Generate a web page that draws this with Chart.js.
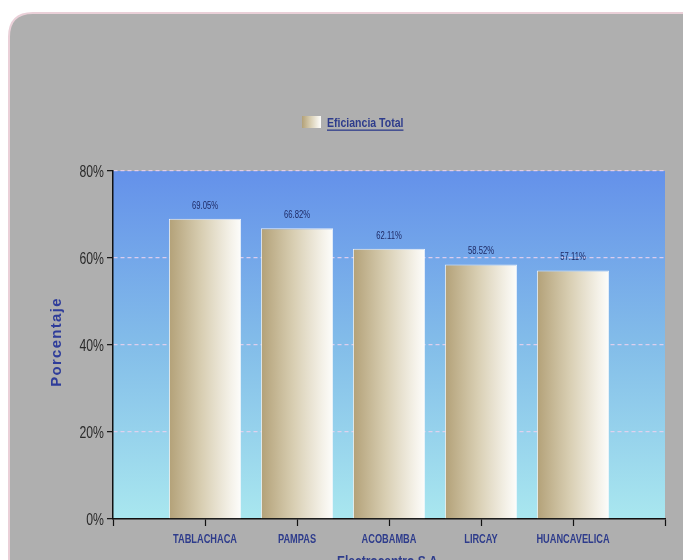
<!DOCTYPE html>
<html><head><meta charset="utf-8">
<script src="https://cdn.jsdelivr.net/npm/chart.js@4/dist/chart.umd.min.js"></script>
<style>
html,body{margin:0;padding:0;background:#fff;overflow:hidden;width:683px;height:560px;}
#wrap{width:683px;height:580px;position:relative;}
</style></head>
<body><div id="wrap"><canvas id="c" width="683" height="580"></canvas></div>
<script>
const categories = ['TABLACHACA','PAMPAS','ACOBAMBA','LIRCAY','HUANCAVELICA'];
const eficienciaTotal = [69.05, 66.82, 62.11, 58.52, 57.11];
const seriesName = 'Eficiancia Total';
const yTicks = [0, 20, 40, 60, 80];
const yTitle = 'Porcentaje';
const xTitle = 'Electrocentro S.A.';

const FONT = "'Liberation Sans',Arial,sans-serif";
const labels = [''].concat(categories, ['']);
const values = [null].concat(eficienciaTotal, [null]);

function barGrad(ctx2d, x0, x1){
  const g = ctx2d.createLinearGradient(x0,0,x1,0);
  g.addColorStop(0,'#b3a178');
  g.addColorStop(0.45,'#d8ceb2');
  g.addColorStop(0.85,'#f4f1e8');
  g.addColorStop(1,'#fdfdfb');
  return g;
}

// draw horizontally condensed text (narrow face look-alike)
function narrowText(c, text, x, y, font, color, align, base, sx){
  c.save();
  c.font = font; c.fillStyle = color;
  c.textAlign = align; c.textBaseline = base;
  c.translate(x, y); c.scale(sx, 1);
  c.fillText(text, 0, 0);
  const w = c.measureText(text).width * sx;
  c.restore();
  return w;
}

const bgPlugin = {
  id:'bg',
  beforeDraw(chart){
    const c = chart.ctx, a = chart.chartArea;
    c.save();
    c.fillStyle='#ffffff'; c.fillRect(0,0,chart.width,chart.height);
    const x=9,y=13,r=24,w=chart.width+40,h=chart.height+40;
    c.beginPath();
    c.moveTo(x+r,y); c.lineTo(x+w,y); c.lineTo(x+w,y+h); c.lineTo(x,y+h); c.lineTo(x,y+r);
    c.quadraticCurveTo(x,y,x+r,y); c.closePath();
    c.fillStyle='#afafaf'; c.fill();
    c.lineWidth=2; c.strokeStyle='#ead0d8'; c.stroke();
    const g = c.createLinearGradient(0,a.top,0,a.bottom);
    g.addColorStop(0,'#6491ea');
    g.addColorStop(0.5,'#83bde9');
    g.addColorStop(1,'#a9e7ef');
    c.fillStyle=g; c.fillRect(a.left,a.top,a.right-a.left,a.bottom-a.top);
    // legend
    c.fillStyle=barGrad(c,302,321); c.fillRect(302,116,19,12);
    const tw = narrowText(c, seriesName, 327, 127, "bold 13px "+FONT, '#2e3c8c', 'left', 'alphabetic', 0.81);
    c.fillStyle='#2e3c8c'; c.fillRect(327,129.5,tw,1.3);
    c.restore();
  }
};

const textPlugin = {
  id:'texts',
  afterDraw(chart){
    const c = chart.ctx, a = chart.chartArea;
    const sx = chart.scales.x, sy = chart.scales.y;
    // y tick labels
    sy.ticks.forEach((t,i)=>{
      narrowText(c, t.value+'%', a.left-9, sy.getPixelForTick(i)+1, "17px "+FONT, '#2a2a2a', 'right', 'middle', 0.72);
    });
    // x tick labels
    sx.ticks.forEach((t,i)=>{
      const lab = labels[t.value]; if (!lab) return;
      narrowText(c, lab, sx.getPixelForTick(i), a.bottom+23.5, "bold 13px "+FONT, '#2e3c8c', 'center', 'alphabetic', 0.71);
    });
    // x title
    narrowText(c, xTitle, (a.left+a.right)/2, 565.5, "bold 15px "+FONT, '#2e3c8c', 'center', 'alphabetic', 0.8);
    // y title
    c.save();
    c.translate(57, (a.top+a.bottom)/2 - 3); c.rotate(-Math.PI/2);
    c.font = "bold 15px "+FONT; c.fillStyle = '#2e3c9a';
    c.textAlign='center'; c.textBaseline='middle';
    try { c.letterSpacing = '1.3px'; } catch(e){}
    c.fillText(yTitle, 0, 0);
    c.restore();
  },
  afterDatasetsDraw(chart){
    const c = chart.ctx; const meta = chart.getDatasetMeta(0);
    meta.data.forEach((el,i)=>{
      const v = values[i]; if (v==null) return;
      narrowText(c, v.toFixed(2)+'%', el.x, el.y-13, "10.5px "+FONT, '#1f2b66', 'center', 'middle', 0.73);
    });
  }
};

new Chart(document.getElementById('c'),{
  type:'bar',
  data:{labels, datasets:[{
    label: seriesName,
    data: values,
    backgroundColor(ctx){
      const ch = ctx.chart; const sx = ch.scales && ch.scales.x;
      if (!sx || ctx.dataIndex==null) return '#d8ceb2';
      const px = sx.getPixelForValue(ctx.dataIndex);
      if (!isFinite(px)) return '#d8ceb2';
      return barGrad(ch.ctx, px-36, px+36);
    },
    borderColor:'rgba(245,248,252,0.9)',
    borderWidth:1,
    barPercentage:0.785,
    categoryPercentage:1
  }]},
  options:{
    responsive:false, animation:false,
    layout:{padding:{left:0,right:18,top:171,bottom:11}},
    plugins:{legend:{display:false},tooltip:{enabled:false}},
    scales:{
      x:{
        type:'category', offset:false,
        afterFit(s){ s.height = 50; },
        grid:{offset:false, drawOnChartArea:false, drawTicks:true, tickLength:7, tickColor:'#111', tickWidth:1.2},
        border:{color:'#111', width:1.5},
        ticks:{display:false, autoSkip:false, maxRotation:0}
      },
      y:{
        min:0, max:80,
        afterFit(s){ s.width = 113; },
        afterBuildTicks(s){ s.ticks = yTicks.map(v=>({value:v})); },
        grid:{
          color(ctx){ return ctx.tick && ctx.tick.value===0 ? 'rgba(0,0,0,0)' : 'rgba(236,210,238,0.85)'; },
          lineWidth:1.3, tickLength:6, tickColor:'#111', tickWidth:1.2
        },
        border:{color:'#111', width:1.5, dash:[4,3]},
        ticks:{display:false}
      }
    }
  },
  plugins:[bgPlugin,textPlugin]
});
</script></body></html>
